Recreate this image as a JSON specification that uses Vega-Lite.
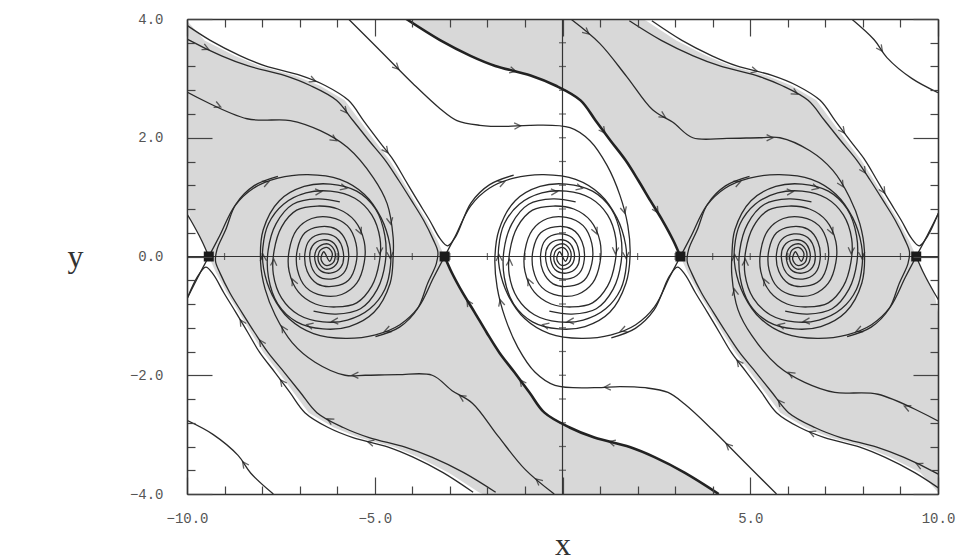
{
"$schema":"https://vega.github.io/schema/vega-lite/v6.json",
"width":751,"height":475,
"autosize":{"type":"none"},
"padding":{"left":187,"top":19,"right":29,"bottom":66},
"background":"white",
"config":{"view":{"stroke":null}},
"datasets":{
"shade":[
{"b":"p","y":4,"x1":-4.16,"x2":2.12},{"b":"p","y":3.97,"x1":-4.05,"x2":2.23},{"b":"p","y":3.64,"x1":-3.25,"x2":3.03},{"b":"p","y":3.38,"x1":-2.45,"x2":3.83},{"b":"p","y":3.21,"x1":-1.79,"x2":4.49},{"b":"p","y":3.05,"x1":-0.85,"x2":5.43},{"b":"p","y":2.88,"x1":-0.19,"x2":6.09},{"b":"p","y":2.63,"x1":0.48,"x2":6.76},{"b":"p","y":2.29,"x1":0.88,"x2":7.16},{"b":"p","y":1.95,"x1":1.28,"x2":7.56},{"b":"p","y":1.62,"x1":1.68,"x2":7.96},{"b":"p","y":1.28,"x1":2.02,"x2":8.3},{"b":"p","y":0.94,"x1":2.34,"x2":8.62},{"b":"p","y":0.61,"x1":2.66,"x2":8.94},{"b":"p","y":0.27,"x1":2.95,"x2":9.23},{"b":"p","y":0,"x1":3.14,"x2":9.42},{"b":"p","y":-0.27,"x1":3.33,"x2":9.61},{"b":"p","y":-0.61,"x1":3.62,"x2":9.9},{"b":"p","y":-0.94,"x1":3.94,"x2":10},{"b":"p","y":-1.28,"x1":4.26,"x2":10},{"b":"p","y":-1.62,"x1":4.6,"x2":10},{"b":"p","y":-1.95,"x1":5.0,"x2":10},{"b":"p","y":-2.29,"x1":5.4,"x2":10},{"b":"p","y":-2.63,"x1":5.8,"x2":10},{"b":"p","y":-2.88,"x1":6.47,"x2":10},{"b":"p","y":-3.05,"x1":7.13,"x2":10},{"b":"p","y":-3.21,"x1":8.07,"x2":10},{"b":"p","y":-3.38,"x1":8.73,"x2":10},{"b":"p","y":-3.64,"x1":9.53,"x2":10},{"b":"p","y":-3.97,"x1":10,"x2":10},
{"b":"m","y":-4,"x1":-2.12,"x2":4.16},{"b":"m","y":-3.97,"x1":-2.23,"x2":4.05},{"b":"m","y":-3.64,"x1":-3.03,"x2":3.25},{"b":"m","y":-3.38,"x1":-3.83,"x2":2.45},{"b":"m","y":-3.21,"x1":-4.49,"x2":1.79},{"b":"m","y":-3.05,"x1":-5.43,"x2":0.85},{"b":"m","y":-2.88,"x1":-6.09,"x2":0.19},{"b":"m","y":-2.63,"x1":-6.76,"x2":-0.48},{"b":"m","y":-2.29,"x1":-7.16,"x2":-0.88},{"b":"m","y":-1.95,"x1":-7.56,"x2":-1.28},{"b":"m","y":-1.62,"x1":-7.96,"x2":-1.68},{"b":"m","y":-1.28,"x1":-8.3,"x2":-2.02},{"b":"m","y":-0.94,"x1":-8.62,"x2":-2.34},{"b":"m","y":-0.61,"x1":-8.94,"x2":-2.66},{"b":"m","y":-0.27,"x1":-9.23,"x2":-2.95},{"b":"m","y":0,"x1":-9.42,"x2":-3.14},{"b":"m","y":0.27,"x1":-9.61,"x2":-3.33},{"b":"m","y":0.61,"x1":-9.9,"x2":-3.62},{"b":"m","y":0.94,"x1":-10,"x2":-3.94},{"b":"m","y":1.28,"x1":-10,"x2":-4.26},{"b":"m","y":1.62,"x1":-10,"x2":-4.6},{"b":"m","y":1.95,"x1":-10,"x2":-5.0},{"b":"m","y":2.29,"x1":-10,"x2":-5.4},{"b":"m","y":2.63,"x1":-10,"x2":-5.8},{"b":"m","y":2.88,"x1":-10,"x2":-6.47},{"b":"m","y":3.05,"x1":-10,"x2":-7.13},{"b":"m","y":3.21,"x1":-10,"x2":-8.07},{"b":"m","y":3.38,"x1":-10,"x2":-8.73},{"b":"m","y":3.64,"x1":-10,"x2":-9.53},{"b":"m","y":3.97,"x1":-10,"x2":-10}
],
"cv":[
{"id":"A0","o":1,"x":-3.14,"y":0},{"id":"A0","o":2,"x":-2.85,"y":0.35},{"id":"A0","o":3,"x":-2.45,"y":0.85},{"id":"A0","o":4,"x":-1.95,"y":1.15},{"id":"A0","o":5,"x":-1.3,"y":1.32},{"id":"A0","o":6,"x":-0.5,"y":1.38},{"id":"A0","o":7,"x":0.35,"y":1.3},{"id":"A0","o":8,"x":1.0,"y":1.05},{"id":"A0","o":9,"x":1.45,"y":0.65},{"id":"A0","o":10,"x":1.68,"y":0.2},{"id":"A0","o":11,"x":1.7,"y":-0.15},{"id":"A0","o":12,"x":1.55,"y":-0.55},{"id":"A0","o":13,"x":1.15,"y":-0.88},{"id":"A0","o":14,"x":0.55,"y":-1.07},{"id":"A0","o":15,"x":-0.1,"y":-1.1},{"id":"A0","o":16,"x":-0.75,"y":-0.98},{"id":"A0","o":17,"x":-1.2,"y":-0.7},{"id":"A0","o":18,"x":-1.42,"y":-0.3},{"id":"A0","o":19,"x":-1.4,"y":0.1},{"id":"A0","o":20,"x":-1.2,"y":0.5},{"id":"A0","o":21,"x":-0.8,"y":0.78},{"id":"A0","o":22,"x":-0.25,"y":0.85},{"id":"A0","o":23,"x":0.3,"y":0.8},{"id":"A0","o":24,"x":0.75,"y":0.6},{"id":"A0","o":25,"x":1.0,"y":0.25},{"id":"A0","o":26,"x":1.0,"y":-0.1},{"id":"A0","o":27,"x":0.8,"y":-0.45},{"id":"A0","o":28,"x":0.4,"y":-0.64},{"id":"A0","o":29,"x":-0.1,"y":-0.66},{"id":"A0","o":30,"x":-0.55,"y":-0.52},{"id":"A0","o":31,"x":-0.78,"y":-0.22},{"id":"A0","o":32,"x":-0.78,"y":0.12},{"id":"A0","o":33,"x":-0.58,"y":0.4},{"id":"A0","o":34,"x":-0.2,"y":0.5},{"id":"A0","o":35,"x":0.25,"y":0.46},{"id":"A0","o":36,"x":0.52,"y":0.25},{"id":"A0","o":37,"x":0.58,"y":-0.05},{"id":"A0","o":38,"x":0.45,"y":-0.28},{"id":"A0","o":39,"x":0.12,"y":-0.38},{"id":"A0","o":40,"x":-0.25,"y":-0.32},{"id":"A0","o":41,"x":-0.44,"y":-0.08},{"id":"A0","o":42,"x":-0.38,"y":0.18},{"id":"A0","o":43,"x":-0.1,"y":0.28},{"id":"A0","o":44,"x":0.2,"y":0.22},{"id":"A0","o":45,"x":0.32,"y":0},{"id":"A0","o":46,"x":0.2,"y":-0.17},{"id":"A0","o":47,"x":-0.05,"y":-0.21},{"id":"A0","o":48,"x":-0.22,"y":-0.08},{"id":"A0","o":49,"x":-0.18,"y":0.1},{"id":"A0","o":50,"x":0.02,"y":0.15},{"id":"A0","o":51,"x":0.15,"y":0.05},{"id":"A0","o":52,"x":0.08,"y":-0.08},{"id":"A0","o":53,"x":0,"y":0},
{"id":"B0","o":1,"x":3.14,"y":0},{"id":"B0","o":2,"x":2.85,"y":-0.35},{"id":"B0","o":3,"x":2.45,"y":-0.85},{"id":"B0","o":4,"x":1.95,"y":-1.15},{"id":"B0","o":5,"x":1.3,"y":-1.32},{"id":"B0","o":6,"x":0.5,"y":-1.38},{"id":"B0","o":7,"x":-0.35,"y":-1.3},{"id":"B0","o":8,"x":-1.0,"y":-1.05},{"id":"B0","o":9,"x":-1.45,"y":-0.65},{"id":"B0","o":10,"x":-1.68,"y":-0.2},{"id":"B0","o":11,"x":-1.7,"y":0.15},{"id":"B0","o":12,"x":-1.55,"y":0.55},{"id":"B0","o":13,"x":-1.15,"y":0.88},{"id":"B0","o":14,"x":-0.55,"y":1.07},{"id":"B0","o":15,"x":0.1,"y":1.1},{"id":"B0","o":16,"x":0.75,"y":0.98},{"id":"B0","o":17,"x":1.2,"y":0.7},{"id":"B0","o":18,"x":1.42,"y":0.3},{"id":"B0","o":19,"x":1.4,"y":-0.1},{"id":"B0","o":20,"x":1.2,"y":-0.5},{"id":"B0","o":21,"x":0.8,"y":-0.78},{"id":"B0","o":22,"x":0.25,"y":-0.85},{"id":"B0","o":23,"x":-0.3,"y":-0.8},{"id":"B0","o":24,"x":-0.75,"y":-0.6},{"id":"B0","o":25,"x":-1.0,"y":-0.25},{"id":"B0","o":26,"x":-1.0,"y":0.1},{"id":"B0","o":27,"x":-0.8,"y":0.45},{"id":"B0","o":28,"x":-0.4,"y":0.64},{"id":"B0","o":29,"x":0.1,"y":0.66},{"id":"B0","o":30,"x":0.55,"y":0.52},{"id":"B0","o":31,"x":0.78,"y":0.22},{"id":"B0","o":32,"x":0.78,"y":-0.12},{"id":"B0","o":33,"x":0.58,"y":-0.4},{"id":"B0","o":34,"x":0.2,"y":-0.5},{"id":"B0","o":35,"x":-0.25,"y":-0.46},{"id":"B0","o":36,"x":-0.52,"y":-0.25},{"id":"B0","o":37,"x":-0.58,"y":0.05},{"id":"B0","o":38,"x":-0.45,"y":0.28},{"id":"B0","o":39,"x":-0.12,"y":0.38},{"id":"B0","o":40,"x":0.25,"y":0.32},{"id":"B0","o":41,"x":0.44,"y":0.08},{"id":"B0","o":42,"x":0.38,"y":-0.18},{"id":"B0","o":43,"x":0.1,"y":-0.28},{"id":"B0","o":44,"x":-0.2,"y":-0.22},{"id":"B0","o":45,"x":-0.32,"y":0},{"id":"B0","o":46,"x":-0.2,"y":0.17},{"id":"B0","o":47,"x":0.05,"y":0.21},{"id":"B0","o":48,"x":0.22,"y":0.08},{"id":"B0","o":49,"x":0.18,"y":-0.1},{"id":"B0","o":50,"x":-0.02,"y":-0.15},{"id":"B0","o":51,"x":-0.15,"y":-0.05},{"id":"B0","o":52,"x":-0.08,"y":0.08},{"id":"B0","o":53,"x":0,"y":0},
{"id":"A2","o":1,"x":3.14,"y":0},{"id":"A2","o":2,"x":3.43,"y":0.35},{"id":"A2","o":3,"x":3.83,"y":0.85},{"id":"A2","o":4,"x":4.33,"y":1.15},{"id":"A2","o":5,"x":4.98,"y":1.32},{"id":"A2","o":6,"x":5.78,"y":1.38},{"id":"A2","o":7,"x":6.63,"y":1.3},{"id":"A2","o":8,"x":7.28,"y":1.05},{"id":"A2","o":9,"x":7.73,"y":0.65},{"id":"A2","o":10,"x":7.96,"y":0.2},{"id":"A2","o":11,"x":7.98,"y":-0.15},{"id":"A2","o":12,"x":7.83,"y":-0.55},{"id":"A2","o":13,"x":7.43,"y":-0.88},{"id":"A2","o":14,"x":6.83,"y":-1.07},{"id":"A2","o":15,"x":6.18,"y":-1.1},{"id":"A2","o":16,"x":5.53,"y":-0.98},{"id":"A2","o":17,"x":5.08,"y":-0.7},{"id":"A2","o":18,"x":4.86,"y":-0.3},{"id":"A2","o":19,"x":4.88,"y":0.1},{"id":"A2","o":20,"x":5.08,"y":0.5},{"id":"A2","o":21,"x":5.48,"y":0.78},{"id":"A2","o":22,"x":6.03,"y":0.85},{"id":"A2","o":23,"x":6.58,"y":0.8},{"id":"A2","o":24,"x":7.03,"y":0.6},{"id":"A2","o":25,"x":7.28,"y":0.25},{"id":"A2","o":26,"x":7.28,"y":-0.1},{"id":"A2","o":27,"x":7.08,"y":-0.45},{"id":"A2","o":28,"x":6.68,"y":-0.64},{"id":"A2","o":29,"x":6.18,"y":-0.66},{"id":"A2","o":30,"x":5.73,"y":-0.52},{"id":"A2","o":31,"x":5.5,"y":-0.22},{"id":"A2","o":32,"x":5.5,"y":0.12},{"id":"A2","o":33,"x":5.7,"y":0.4},{"id":"A2","o":34,"x":6.08,"y":0.5},{"id":"A2","o":35,"x":6.53,"y":0.46},{"id":"A2","o":36,"x":6.8,"y":0.25},{"id":"A2","o":37,"x":6.86,"y":-0.05},{"id":"A2","o":38,"x":6.73,"y":-0.28},{"id":"A2","o":39,"x":6.4,"y":-0.38},{"id":"A2","o":40,"x":6.03,"y":-0.32},{"id":"A2","o":41,"x":5.84,"y":-0.08},{"id":"A2","o":42,"x":5.9,"y":0.18},{"id":"A2","o":43,"x":6.18,"y":0.28},{"id":"A2","o":44,"x":6.48,"y":0.22},{"id":"A2","o":45,"x":6.6,"y":0},{"id":"A2","o":46,"x":6.48,"y":-0.17},{"id":"A2","o":47,"x":6.23,"y":-0.21},{"id":"A2","o":48,"x":6.06,"y":-0.08},{"id":"A2","o":49,"x":6.1,"y":0.1},{"id":"A2","o":50,"x":6.3,"y":0.15},{"id":"A2","o":51,"x":6.43,"y":0.05},{"id":"A2","o":52,"x":6.36,"y":-0.08},{"id":"A2","o":53,"x":6.28,"y":0},
{"id":"B2","o":1,"x":9.42,"y":0},{"id":"B2","o":2,"x":9.13,"y":-0.35},{"id":"B2","o":3,"x":8.73,"y":-0.85},{"id":"B2","o":4,"x":8.23,"y":-1.15},{"id":"B2","o":5,"x":7.58,"y":-1.32},{"id":"B2","o":6,"x":6.78,"y":-1.38},{"id":"B2","o":7,"x":5.93,"y":-1.3},{"id":"B2","o":8,"x":5.28,"y":-1.05},{"id":"B2","o":9,"x":4.83,"y":-0.65},{"id":"B2","o":10,"x":4.6,"y":-0.2},{"id":"B2","o":11,"x":4.58,"y":0.15},{"id":"B2","o":12,"x":4.73,"y":0.55},{"id":"B2","o":13,"x":5.13,"y":0.88},{"id":"B2","o":14,"x":5.73,"y":1.07},{"id":"B2","o":15,"x":6.38,"y":1.1},{"id":"B2","o":16,"x":7.03,"y":0.98},{"id":"B2","o":17,"x":7.48,"y":0.7},{"id":"B2","o":18,"x":7.7,"y":0.3},{"id":"B2","o":19,"x":7.68,"y":-0.1},{"id":"B2","o":20,"x":7.48,"y":-0.5},{"id":"B2","o":21,"x":7.08,"y":-0.78},{"id":"B2","o":22,"x":6.53,"y":-0.85},{"id":"B2","o":23,"x":5.98,"y":-0.8},{"id":"B2","o":24,"x":5.53,"y":-0.6},{"id":"B2","o":25,"x":5.28,"y":-0.25},{"id":"B2","o":26,"x":5.28,"y":0.1},{"id":"B2","o":27,"x":5.48,"y":0.45},{"id":"B2","o":28,"x":5.88,"y":0.64},{"id":"B2","o":29,"x":6.38,"y":0.66},{"id":"B2","o":30,"x":6.83,"y":0.52},{"id":"B2","o":31,"x":7.06,"y":0.22},{"id":"B2","o":32,"x":7.06,"y":-0.12},{"id":"B2","o":33,"x":6.86,"y":-0.4},{"id":"B2","o":34,"x":6.48,"y":-0.5},{"id":"B2","o":35,"x":6.03,"y":-0.46},{"id":"B2","o":36,"x":5.76,"y":-0.25},{"id":"B2","o":37,"x":5.7,"y":0.05},{"id":"B2","o":38,"x":5.83,"y":0.28},{"id":"B2","o":39,"x":6.16,"y":0.38},{"id":"B2","o":40,"x":6.53,"y":0.32},{"id":"B2","o":41,"x":6.72,"y":0.08},{"id":"B2","o":42,"x":6.66,"y":-0.18},{"id":"B2","o":43,"x":6.38,"y":-0.28},{"id":"B2","o":44,"x":6.08,"y":-0.22},{"id":"B2","o":45,"x":5.96,"y":0},{"id":"B2","o":46,"x":6.08,"y":0.17},{"id":"B2","o":47,"x":6.33,"y":0.21},{"id":"B2","o":48,"x":6.5,"y":0.08},{"id":"B2","o":49,"x":6.46,"y":-0.1},{"id":"B2","o":50,"x":6.26,"y":-0.15},{"id":"B2","o":51,"x":6.13,"y":-0.05},{"id":"B2","o":52,"x":6.2,"y":0.08},{"id":"B2","o":53,"x":6.28,"y":0},
{"id":"Am2","o":1,"x":-9.42,"y":0},{"id":"Am2","o":2,"x":-9.13,"y":0.35},{"id":"Am2","o":3,"x":-8.73,"y":0.85},{"id":"Am2","o":4,"x":-8.23,"y":1.15},{"id":"Am2","o":5,"x":-7.58,"y":1.32},{"id":"Am2","o":6,"x":-6.78,"y":1.38},{"id":"Am2","o":7,"x":-5.93,"y":1.3},{"id":"Am2","o":8,"x":-5.28,"y":1.05},{"id":"Am2","o":9,"x":-4.83,"y":0.65},{"id":"Am2","o":10,"x":-4.6,"y":0.2},{"id":"Am2","o":11,"x":-4.58,"y":-0.15},{"id":"Am2","o":12,"x":-4.73,"y":-0.55},{"id":"Am2","o":13,"x":-5.13,"y":-0.88},{"id":"Am2","o":14,"x":-5.73,"y":-1.07},{"id":"Am2","o":15,"x":-6.38,"y":-1.1},{"id":"Am2","o":16,"x":-7.03,"y":-0.98},{"id":"Am2","o":17,"x":-7.48,"y":-0.7},{"id":"Am2","o":18,"x":-7.7,"y":-0.3},{"id":"Am2","o":19,"x":-7.68,"y":0.1},{"id":"Am2","o":20,"x":-7.48,"y":0.5},{"id":"Am2","o":21,"x":-7.08,"y":0.78},{"id":"Am2","o":22,"x":-6.53,"y":0.85},{"id":"Am2","o":23,"x":-5.98,"y":0.8},{"id":"Am2","o":24,"x":-5.53,"y":0.6},{"id":"Am2","o":25,"x":-5.28,"y":0.25},{"id":"Am2","o":26,"x":-5.28,"y":-0.1},{"id":"Am2","o":27,"x":-5.48,"y":-0.45},{"id":"Am2","o":28,"x":-5.88,"y":-0.64},{"id":"Am2","o":29,"x":-6.38,"y":-0.66},{"id":"Am2","o":30,"x":-6.83,"y":-0.52},{"id":"Am2","o":31,"x":-7.06,"y":-0.22},{"id":"Am2","o":32,"x":-7.06,"y":0.12},{"id":"Am2","o":33,"x":-6.86,"y":0.4},{"id":"Am2","o":34,"x":-6.48,"y":0.5},{"id":"Am2","o":35,"x":-6.03,"y":0.46},{"id":"Am2","o":36,"x":-5.76,"y":0.25},{"id":"Am2","o":37,"x":-5.7,"y":-0.05},{"id":"Am2","o":38,"x":-5.83,"y":-0.28},{"id":"Am2","o":39,"x":-6.16,"y":-0.38},{"id":"Am2","o":40,"x":-6.53,"y":-0.32},{"id":"Am2","o":41,"x":-6.72,"y":-0.08},{"id":"Am2","o":42,"x":-6.66,"y":0.18},{"id":"Am2","o":43,"x":-6.38,"y":0.28},{"id":"Am2","o":44,"x":-6.08,"y":0.22},{"id":"Am2","o":45,"x":-5.96,"y":0},{"id":"Am2","o":46,"x":-6.08,"y":-0.17},{"id":"Am2","o":47,"x":-6.33,"y":-0.21},{"id":"Am2","o":48,"x":-6.5,"y":-0.08},{"id":"Am2","o":49,"x":-6.46,"y":0.1},{"id":"Am2","o":50,"x":-6.26,"y":0.15},{"id":"Am2","o":51,"x":-6.13,"y":0.05},{"id":"Am2","o":52,"x":-6.2,"y":-0.08},{"id":"Am2","o":53,"x":-6.28,"y":0},
{"id":"Bm2","o":1,"x":-3.14,"y":0},{"id":"Bm2","o":2,"x":-3.43,"y":-0.35},{"id":"Bm2","o":3,"x":-3.83,"y":-0.85},{"id":"Bm2","o":4,"x":-4.33,"y":-1.15},{"id":"Bm2","o":5,"x":-4.98,"y":-1.32},{"id":"Bm2","o":6,"x":-5.78,"y":-1.38},{"id":"Bm2","o":7,"x":-6.63,"y":-1.3},{"id":"Bm2","o":8,"x":-7.28,"y":-1.05},{"id":"Bm2","o":9,"x":-7.73,"y":-0.65},{"id":"Bm2","o":10,"x":-7.96,"y":-0.2},{"id":"Bm2","o":11,"x":-7.98,"y":0.15},{"id":"Bm2","o":12,"x":-7.83,"y":0.55},{"id":"Bm2","o":13,"x":-7.43,"y":0.88},{"id":"Bm2","o":14,"x":-6.83,"y":1.07},{"id":"Bm2","o":15,"x":-6.18,"y":1.1},{"id":"Bm2","o":16,"x":-5.53,"y":0.98},{"id":"Bm2","o":17,"x":-5.08,"y":0.7},{"id":"Bm2","o":18,"x":-4.86,"y":0.3},{"id":"Bm2","o":19,"x":-4.88,"y":-0.1},{"id":"Bm2","o":20,"x":-5.08,"y":-0.5},{"id":"Bm2","o":21,"x":-5.48,"y":-0.78},{"id":"Bm2","o":22,"x":-6.03,"y":-0.85},{"id":"Bm2","o":23,"x":-6.58,"y":-0.8},{"id":"Bm2","o":24,"x":-7.03,"y":-0.6},{"id":"Bm2","o":25,"x":-7.28,"y":-0.25},{"id":"Bm2","o":26,"x":-7.28,"y":0.1},{"id":"Bm2","o":27,"x":-7.08,"y":0.45},{"id":"Bm2","o":28,"x":-6.68,"y":0.64},{"id":"Bm2","o":29,"x":-6.18,"y":0.66},{"id":"Bm2","o":30,"x":-5.73,"y":0.52},{"id":"Bm2","o":31,"x":-5.5,"y":0.22},{"id":"Bm2","o":32,"x":-5.5,"y":-0.12},{"id":"Bm2","o":33,"x":-5.7,"y":-0.4},{"id":"Bm2","o":34,"x":-6.08,"y":-0.5},{"id":"Bm2","o":35,"x":-6.53,"y":-0.46},{"id":"Bm2","o":36,"x":-6.8,"y":-0.25},{"id":"Bm2","o":37,"x":-6.86,"y":0.05},{"id":"Bm2","o":38,"x":-6.73,"y":0.28},{"id":"Bm2","o":39,"x":-6.4,"y":0.38},{"id":"Bm2","o":40,"x":-6.03,"y":0.32},{"id":"Bm2","o":41,"x":-5.84,"y":0.08},{"id":"Bm2","o":42,"x":-5.9,"y":-0.18},{"id":"Bm2","o":43,"x":-6.18,"y":-0.28},{"id":"Bm2","o":44,"x":-6.48,"y":-0.22},{"id":"Bm2","o":45,"x":-6.6,"y":0},{"id":"Bm2","o":46,"x":-6.48,"y":0.17},{"id":"Bm2","o":47,"x":-6.23,"y":0.21},{"id":"Bm2","o":48,"x":-6.06,"y":0.08},{"id":"Bm2","o":49,"x":-6.1,"y":-0.1},{"id":"Bm2","o":50,"x":-6.3,"y":-0.15},{"id":"Bm2","o":51,"x":-6.43,"y":-0.05},{"id":"Bm2","o":52,"x":-6.36,"y":0.08},{"id":"Bm2","o":53,"x":-6.28,"y":0},
{"id":"C0","o":1,"x":-5.7,"y":4.0},{"id":"C0","o":2,"x":-4.86,"y":3.47},{"id":"C0","o":3,"x":-3.98,"y":2.91},{"id":"C0","o":4,"x":-3.26,"y":2.49},{"id":"C0","o":5,"x":-2.81,"y":2.29},{"id":"C0","o":6,"x":-2.2,"y":2.21},{"id":"C0","o":7,"x":-1.53,"y":2.19},{"id":"C0","o":8,"x":-0.87,"y":2.21},{"id":"C0","o":9,"x":0.2,"y":2.17},{"id":"C0","o":10,"x":0.73,"y":1.95},{"id":"C0","o":11,"x":1.19,"y":1.53},{"id":"C0","o":12,"x":1.53,"y":1.03},{"id":"C0","o":13,"x":1.74,"y":0.52},{"id":"C0","o":14,"x":1.8,"y":0.02},{"id":"C0","o":15,"x":1.69,"y":-0.45},{"id":"C0","o":16,"x":1.26,"y":-0.94},{"id":"C0","o":17,"x":0.6,"y":-1.18},{"id":"C0","o":18,"x":-0.1,"y":-1.22},{"id":"C0","o":19,"x":-0.8,"y":-1.1},{"id":"C0","o":20,"x":-1.3,"y":-0.8},{"id":"C0","o":21,"x":-1.55,"y":-0.35},{"id":"C0","o":22,"x":-1.56,"y":0.1},{"id":"C0","o":23,"x":-1.35,"y":0.55},{"id":"C0","o":24,"x":-0.9,"y":0.88},{"id":"C0","o":25,"x":-0.25,"y":0.97},{"id":"C0","o":26,"x":0.35,"y":0.92},
{"id":"Cr0","o":1,"x":5.7,"y":-4.0},{"id":"Cr0","o":2,"x":4.86,"y":-3.47},{"id":"Cr0","o":3,"x":3.98,"y":-2.91},{"id":"Cr0","o":4,"x":3.26,"y":-2.49},{"id":"Cr0","o":5,"x":2.81,"y":-2.29},{"id":"Cr0","o":6,"x":2.2,"y":-2.21},{"id":"Cr0","o":7,"x":1.53,"y":-2.19},{"id":"Cr0","o":8,"x":0.87,"y":-2.21},{"id":"Cr0","o":9,"x":-0.2,"y":-2.17},{"id":"Cr0","o":10,"x":-0.73,"y":-1.95},{"id":"Cr0","o":11,"x":-1.19,"y":-1.53},{"id":"Cr0","o":12,"x":-1.53,"y":-1.03},{"id":"Cr0","o":13,"x":-1.74,"y":-0.52},{"id":"Cr0","o":14,"x":-1.8,"y":-0.02},{"id":"Cr0","o":15,"x":-1.69,"y":0.45},{"id":"Cr0","o":16,"x":-1.26,"y":0.94},{"id":"Cr0","o":17,"x":-0.6,"y":1.18},{"id":"Cr0","o":18,"x":0.1,"y":1.22},{"id":"Cr0","o":19,"x":0.8,"y":1.1},{"id":"Cr0","o":20,"x":1.3,"y":0.8},{"id":"Cr0","o":21,"x":1.55,"y":0.35},{"id":"Cr0","o":22,"x":1.56,"y":-0.1},{"id":"Cr0","o":23,"x":1.35,"y":-0.55},{"id":"Cr0","o":24,"x":0.9,"y":-0.88},{"id":"Cr0","o":25,"x":0.25,"y":-0.97},{"id":"Cr0","o":26,"x":-0.35,"y":-0.92},
{"id":"C2","o":1,"x":0.22,"y":4.0},{"id":"C2","o":2,"x":0.99,"y":3.59},{"id":"C2","o":3,"x":1.71,"y":3.03},{"id":"C2","o":4,"x":2.4,"y":2.47},{"id":"C2","o":5,"x":2.94,"y":2.26},{"id":"C2","o":6,"x":3.47,"y":2.0},{"id":"C2","o":7,"x":4.38,"y":1.99},{"id":"C2","o":8,"x":5.25,"y":2.0},{"id":"C2","o":9,"x":5.79,"y":2.0},{"id":"C2","o":10,"x":6.59,"y":1.78},{"id":"C2","o":11,"x":7.2,"y":1.45},{"id":"C2","o":12,"x":7.65,"y":0.99},{"id":"C2","o":13,"x":7.92,"y":0.55},{"id":"C2","o":14,"x":8.04,"y":0.1},{"id":"C2","o":15,"x":7.97,"y":-0.45},{"id":"C2","o":16,"x":7.54,"y":-0.94},{"id":"C2","o":17,"x":6.88,"y":-1.18},{"id":"C2","o":18,"x":6.18,"y":-1.22},{"id":"C2","o":19,"x":5.48,"y":-1.1},{"id":"C2","o":20,"x":4.98,"y":-0.8},{"id":"C2","o":21,"x":4.73,"y":-0.35},{"id":"C2","o":22,"x":4.72,"y":0.1},{"id":"C2","o":23,"x":4.93,"y":0.55},{"id":"C2","o":24,"x":5.38,"y":0.88},{"id":"C2","o":25,"x":6.03,"y":0.97},{"id":"C2","o":26,"x":6.63,"y":0.92},
{"id":"Crm2","o":1,"x":-0.22,"y":-4.0},{"id":"Crm2","o":2,"x":-0.99,"y":-3.59},{"id":"Crm2","o":3,"x":-1.71,"y":-3.03},{"id":"Crm2","o":4,"x":-2.4,"y":-2.47},{"id":"Crm2","o":5,"x":-2.94,"y":-2.26},{"id":"Crm2","o":6,"x":-3.47,"y":-2.0},{"id":"Crm2","o":7,"x":-4.38,"y":-1.99},{"id":"Crm2","o":8,"x":-5.25,"y":-2.0},{"id":"Crm2","o":9,"x":-5.79,"y":-2.0},{"id":"Crm2","o":10,"x":-6.59,"y":-1.78},{"id":"Crm2","o":11,"x":-7.2,"y":-1.45},{"id":"Crm2","o":12,"x":-7.65,"y":-0.99},{"id":"Crm2","o":13,"x":-7.92,"y":-0.55},{"id":"Crm2","o":14,"x":-8.04,"y":-0.1},{"id":"Crm2","o":15,"x":-7.97,"y":0.45},{"id":"Crm2","o":16,"x":-7.54,"y":0.94},{"id":"Crm2","o":17,"x":-6.88,"y":1.18},{"id":"Crm2","o":18,"x":-6.18,"y":1.22},{"id":"Crm2","o":19,"x":-5.48,"y":1.1},{"id":"Crm2","o":20,"x":-4.98,"y":0.8},{"id":"Crm2","o":21,"x":-4.73,"y":0.35},{"id":"Crm2","o":22,"x":-4.72,"y":-0.1},{"id":"Crm2","o":23,"x":-4.93,"y":-0.55},{"id":"Crm2","o":24,"x":-5.38,"y":-0.88},{"id":"Crm2","o":25,"x":-6.03,"y":-0.97},{"id":"Crm2","o":26,"x":-6.63,"y":-0.92},
{"id":"Ca","o":1,"x":-10.0,"y":2.77},{"id":"Ca","o":2,"x":-8.4,"y":2.32},{"id":"Ca","o":3,"x":-7.25,"y":2.29},{"id":"Ca","o":4,"x":-6.45,"y":2.12},{"id":"Ca","o":5,"x":-5.73,"y":1.84},{"id":"Ca","o":6,"x":-5.04,"y":1.33},{"id":"Ca","o":7,"x":-4.67,"y":0.89},{"id":"Ca","o":8,"x":-4.51,"y":0.32},{"id":"Ca","o":9,"x":-4.51,"y":0.0},{"id":"Ca","o":10,"x":-4.59,"y":-0.45},{"id":"Ca","o":11,"x":-5.02,"y":-0.94},{"id":"Ca","o":12,"x":-5.68,"y":-1.18},{"id":"Ca","o":13,"x":-6.38,"y":-1.22},{"id":"Ca","o":14,"x":-7.08,"y":-1.1},{"id":"Ca","o":15,"x":-7.58,"y":-0.8},{"id":"Ca","o":16,"x":-7.83,"y":-0.35},{"id":"Ca","o":17,"x":-7.84,"y":0.1},{"id":"Ca","o":18,"x":-7.63,"y":0.55},{"id":"Ca","o":19,"x":-7.18,"y":0.88},{"id":"Ca","o":20,"x":-6.53,"y":0.97},{"id":"Ca","o":21,"x":-5.93,"y":0.92},
{"id":"Car","o":1,"x":10.0,"y":-2.77},{"id":"Car","o":2,"x":8.4,"y":-2.32},{"id":"Car","o":3,"x":7.25,"y":-2.29},{"id":"Car","o":4,"x":6.45,"y":-2.12},{"id":"Car","o":5,"x":5.73,"y":-1.84},{"id":"Car","o":6,"x":5.04,"y":-1.33},{"id":"Car","o":7,"x":4.67,"y":-0.89},{"id":"Car","o":8,"x":4.51,"y":-0.32},{"id":"Car","o":9,"x":4.51,"y":0.0},{"id":"Car","o":10,"x":4.59,"y":0.45},{"id":"Car","o":11,"x":5.02,"y":0.94},{"id":"Car","o":12,"x":5.68,"y":1.18},{"id":"Car","o":13,"x":6.38,"y":1.22},{"id":"Car","o":14,"x":7.08,"y":1.1},{"id":"Car","o":15,"x":7.58,"y":0.8},{"id":"Car","o":16,"x":7.83,"y":0.35},{"id":"Car","o":17,"x":7.84,"y":-0.1},{"id":"Car","o":18,"x":7.63,"y":-0.55},{"id":"Car","o":19,"x":7.18,"y":-0.88},{"id":"Car","o":20,"x":6.53,"y":-0.97},{"id":"Car","o":21,"x":5.93,"y":-0.92},
{"id":"G","o":1,"x":7.7,"y":4.0},{"id":"G","o":2,"x":8.3,"y":3.65},{"id":"G","o":3,"x":8.64,"y":3.35},{"id":"G","o":4,"x":9.3,"y":3.0},{"id":"G","o":5,"x":10.0,"y":2.76},
{"id":"Gr","o":1,"x":-7.7,"y":-4.0},{"id":"Gr","o":2,"x":-8.3,"y":-3.65},{"id":"Gr","o":3,"x":-8.64,"y":-3.35},{"id":"Gr","o":4,"x":-9.3,"y":-3.0},{"id":"Gr","o":5,"x":-10.0,"y":-2.76},
{"id":"PmR","o":1,"x":-10.18,"y":3.97},{"id":"PmR","o":2,"x":-9.38,"y":3.64},{"id":"PmR","o":3,"x":-8.58,"y":3.38},{"id":"PmR","o":4,"x":-7.92,"y":3.21},{"id":"PmR","o":5,"x":-6.98,"y":3.05},{"id":"PmR","o":6,"x":-6.32,"y":2.88},{"id":"PmR","o":7,"x":-5.7,"y":2.63},{"id":"PmR","o":8,"x":-5.3,"y":2.29},{"id":"PmR","o":9,"x":-4.9,"y":1.95},{"id":"PmR","o":10,"x":-4.5,"y":1.62},{"id":"PmR","o":11,"x":-4.18,"y":1.28},{"id":"PmR","o":12,"x":-3.86,"y":0.94},{"id":"PmR","o":13,"x":-3.54,"y":0.61},{"id":"PmR","o":14,"x":-3.26,"y":0.3},{"id":"PmR","o":15,"x":-3.06,"y":0.18},{"id":"PmR","o":16,"x":-2.84,"y":0.34},{"id":"PmR","o":17,"x":-2.44,"y":0.9},{"id":"PmR","o":18,"x":-1.94,"y":1.21},{"id":"PmR","o":19,"x":-1.3,"y":1.37},
{"id":"PmL","o":1,"x":-10.78,"y":3.97},{"id":"PmL","o":2,"x":-9.93,"y":3.64},{"id":"PmL","o":3,"x":-9.08,"y":3.38},{"id":"PmL","o":4,"x":-8.37,"y":3.21},{"id":"PmL","o":5,"x":-7.41,"y":3.05},{"id":"PmL","o":6,"x":-6.72,"y":2.88},{"id":"PmL","o":7,"x":-6.02,"y":2.63},{"id":"PmL","o":8,"x":-5.58,"y":2.29},{"id":"PmL","o":9,"x":-5.15,"y":1.95},{"id":"PmL","o":10,"x":-4.72,"y":1.62},{"id":"PmL","o":11,"x":-4.36,"y":1.28},{"id":"PmL","o":12,"x":-4.02,"y":0.94},{"id":"PmL","o":13,"x":-3.7,"y":0.61},{"id":"PmL","o":14,"x":-3.44,"y":0.28},{"id":"PmL","o":15,"x":-3.32,"y":0.08},{"id":"PmL","o":16,"x":-3.36,"y":-0.12},{"id":"PmL","o":17,"x":-3.59,"y":-0.45},{"id":"PmL","o":18,"x":-3.86,"y":-0.88},{"id":"PmL","o":19,"x":-4.34,"y":-1.19},{"id":"PmL","o":20,"x":-4.98,"y":-1.35},
{"id":"P3R","o":1,"x":2.38,"y":3.97},{"id":"P3R","o":2,"x":3.18,"y":3.64},{"id":"P3R","o":3,"x":3.98,"y":3.38},{"id":"P3R","o":4,"x":4.64,"y":3.21},{"id":"P3R","o":5,"x":5.58,"y":3.05},{"id":"P3R","o":6,"x":6.24,"y":2.88},{"id":"P3R","o":7,"x":6.86,"y":2.63},{"id":"P3R","o":8,"x":7.26,"y":2.29},{"id":"P3R","o":9,"x":7.66,"y":1.95},{"id":"P3R","o":10,"x":8.06,"y":1.62},{"id":"P3R","o":11,"x":8.38,"y":1.28},{"id":"P3R","o":12,"x":8.7,"y":0.94},{"id":"P3R","o":13,"x":9.02,"y":0.61},{"id":"P3R","o":14,"x":9.3,"y":0.3},{"id":"P3R","o":15,"x":9.5,"y":0.18},{"id":"P3R","o":16,"x":9.72,"y":0.34},{"id":"P3R","o":17,"x":10.12,"y":0.9},
{"id":"P3L","o":1,"x":1.78,"y":3.97},{"id":"P3L","o":2,"x":2.63,"y":3.64},{"id":"P3L","o":3,"x":3.48,"y":3.38},{"id":"P3L","o":4,"x":4.19,"y":3.21},{"id":"P3L","o":5,"x":5.15,"y":3.05},{"id":"P3L","o":6,"x":5.84,"y":2.88},{"id":"P3L","o":7,"x":6.54,"y":2.63},{"id":"P3L","o":8,"x":6.98,"y":2.29},{"id":"P3L","o":9,"x":7.41,"y":1.95},{"id":"P3L","o":10,"x":7.84,"y":1.62},{"id":"P3L","o":11,"x":8.2,"y":1.28},{"id":"P3L","o":12,"x":8.54,"y":0.94},{"id":"P3L","o":13,"x":8.86,"y":0.61},{"id":"P3L","o":14,"x":9.12,"y":0.28},{"id":"P3L","o":15,"x":9.24,"y":0.08},{"id":"P3L","o":16,"x":9.2,"y":-0.12},{"id":"P3L","o":17,"x":8.97,"y":-0.45},{"id":"P3L","o":18,"x":8.7,"y":-0.88},{"id":"P3L","o":19,"x":8.22,"y":-1.19},{"id":"P3L","o":20,"x":7.58,"y":-1.35},
{"id":"QmR","o":1,"x":10.18,"y":-3.97},{"id":"QmR","o":2,"x":9.38,"y":-3.64},{"id":"QmR","o":3,"x":8.58,"y":-3.38},{"id":"QmR","o":4,"x":7.92,"y":-3.21},{"id":"QmR","o":5,"x":6.98,"y":-3.05},{"id":"QmR","o":6,"x":6.32,"y":-2.88},{"id":"QmR","o":7,"x":5.7,"y":-2.63},{"id":"QmR","o":8,"x":5.3,"y":-2.29},{"id":"QmR","o":9,"x":4.9,"y":-1.95},{"id":"QmR","o":10,"x":4.5,"y":-1.62},{"id":"QmR","o":11,"x":4.18,"y":-1.28},{"id":"QmR","o":12,"x":3.86,"y":-0.94},{"id":"QmR","o":13,"x":3.54,"y":-0.61},{"id":"QmR","o":14,"x":3.26,"y":-0.3},{"id":"QmR","o":15,"x":3.06,"y":-0.18},{"id":"QmR","o":16,"x":2.84,"y":-0.34},{"id":"QmR","o":17,"x":2.44,"y":-0.9},{"id":"QmR","o":18,"x":1.94,"y":-1.21},{"id":"QmR","o":19,"x":1.3,"y":-1.37},
{"id":"QmL","o":1,"x":10.78,"y":-3.97},{"id":"QmL","o":2,"x":9.93,"y":-3.64},{"id":"QmL","o":3,"x":9.08,"y":-3.38},{"id":"QmL","o":4,"x":8.37,"y":-3.21},{"id":"QmL","o":5,"x":7.41,"y":-3.05},{"id":"QmL","o":6,"x":6.72,"y":-2.88},{"id":"QmL","o":7,"x":6.02,"y":-2.63},{"id":"QmL","o":8,"x":5.58,"y":-2.29},{"id":"QmL","o":9,"x":5.15,"y":-1.95},{"id":"QmL","o":10,"x":4.72,"y":-1.62},{"id":"QmL","o":11,"x":4.36,"y":-1.28},{"id":"QmL","o":12,"x":4.02,"y":-0.94},{"id":"QmL","o":13,"x":3.7,"y":-0.61},{"id":"QmL","o":14,"x":3.44,"y":-0.28},{"id":"QmL","o":15,"x":3.32,"y":-0.08},{"id":"QmL","o":16,"x":3.36,"y":0.12},{"id":"QmL","o":17,"x":3.59,"y":0.45},{"id":"QmL","o":18,"x":3.86,"y":0.88},{"id":"QmL","o":19,"x":4.34,"y":1.19},{"id":"QmL","o":20,"x":4.98,"y":1.35},
{"id":"Q3R","o":1,"x":-2.38,"y":-3.97},{"id":"Q3R","o":2,"x":-3.18,"y":-3.64},{"id":"Q3R","o":3,"x":-3.98,"y":-3.38},{"id":"Q3R","o":4,"x":-4.64,"y":-3.21},{"id":"Q3R","o":5,"x":-5.58,"y":-3.05},{"id":"Q3R","o":6,"x":-6.24,"y":-2.88},{"id":"Q3R","o":7,"x":-6.86,"y":-2.63},{"id":"Q3R","o":8,"x":-7.26,"y":-2.29},{"id":"Q3R","o":9,"x":-7.66,"y":-1.95},{"id":"Q3R","o":10,"x":-8.06,"y":-1.62},{"id":"Q3R","o":11,"x":-8.38,"y":-1.28},{"id":"Q3R","o":12,"x":-8.7,"y":-0.94},{"id":"Q3R","o":13,"x":-9.02,"y":-0.61},{"id":"Q3R","o":14,"x":-9.3,"y":-0.3},{"id":"Q3R","o":15,"x":-9.5,"y":-0.18},{"id":"Q3R","o":16,"x":-9.72,"y":-0.34},{"id":"Q3R","o":17,"x":-10.12,"y":-0.9},
{"id":"Q3L","o":1,"x":-1.78,"y":-3.97},{"id":"Q3L","o":2,"x":-2.63,"y":-3.64},{"id":"Q3L","o":3,"x":-3.48,"y":-3.38},{"id":"Q3L","o":4,"x":-4.19,"y":-3.21},{"id":"Q3L","o":5,"x":-5.15,"y":-3.05},{"id":"Q3L","o":6,"x":-5.84,"y":-2.88},{"id":"Q3L","o":7,"x":-6.54,"y":-2.63},{"id":"Q3L","o":8,"x":-6.98,"y":-2.29},{"id":"Q3L","o":9,"x":-7.41,"y":-1.95},{"id":"Q3L","o":10,"x":-7.84,"y":-1.62},{"id":"Q3L","o":11,"x":-8.2,"y":-1.28},{"id":"Q3L","o":12,"x":-8.54,"y":-0.94},{"id":"Q3L","o":13,"x":-8.86,"y":-0.61},{"id":"Q3L","o":14,"x":-9.12,"y":-0.28},{"id":"Q3L","o":15,"x":-9.24,"y":-0.08},{"id":"Q3L","o":16,"x":-9.2,"y":0.12},{"id":"Q3L","o":17,"x":-8.97,"y":0.45},{"id":"Q3L","o":18,"x":-8.7,"y":0.88},{"id":"Q3L","o":19,"x":-8.22,"y":1.19},{"id":"Q3L","o":20,"x":-7.58,"y":1.35},
{"id":"U3m","o":1,"x":-10.54,"y":1.28},{"id":"U3m","o":2,"x":-10.22,"y":0.94},{"id":"U3m","o":3,"x":-9.9,"y":0.61},{"id":"U3m","o":4,"x":-9.61,"y":0.27},{"id":"U3m","o":5,"x":-9.42,"y":0},
{"id":"U3r","o":1,"x":10.54,"y":-1.28},{"id":"U3r","o":2,"x":10.22,"y":-0.94},{"id":"U3r","o":3,"x":9.9,"y":-0.61},{"id":"U3r","o":4,"x":9.61,"y":-0.27},{"id":"U3r","o":5,"x":9.42,"y":0},
{"id":"A4","o":1,"x":9.42,"y":0},{"id":"A4","o":2,"x":9.71,"y":0.35},{"id":"A4","o":3,"x":10.11,"y":0.85},
{"id":"B4","o":1,"x":-9.42,"y":0},{"id":"B4","o":2,"x":-9.71,"y":-0.35},{"id":"B4","o":3,"x":-10.11,"y":-0.85}
],
"tk":[
{"id":"Up","o":1,"x":-4.16,"y":4.0},{"id":"Up","o":2,"x":-3.25,"y":3.64},{"id":"Up","o":3,"x":-2.45,"y":3.38},{"id":"Up","o":4,"x":-1.79,"y":3.21},{"id":"Up","o":5,"x":-0.85,"y":3.05},{"id":"Up","o":6,"x":-0.19,"y":2.88},{"id":"Up","o":7,"x":0.48,"y":2.63},{"id":"Up","o":8,"x":0.88,"y":2.29},{"id":"Up","o":9,"x":1.28,"y":1.95},{"id":"Up","o":10,"x":1.68,"y":1.62},{"id":"Up","o":11,"x":2.02,"y":1.28},{"id":"Up","o":12,"x":2.34,"y":0.94},{"id":"Up","o":13,"x":2.66,"y":0.61},{"id":"Up","o":14,"x":2.95,"y":0.27},{"id":"Up","o":15,"x":3.14,"y":0},
{"id":"Lm","o":1,"x":4.16,"y":-4.0},{"id":"Lm","o":2,"x":3.25,"y":-3.64},{"id":"Lm","o":3,"x":2.45,"y":-3.38},{"id":"Lm","o":4,"x":1.79,"y":-3.21},{"id":"Lm","o":5,"x":0.85,"y":-3.05},{"id":"Lm","o":6,"x":0.19,"y":-2.88},{"id":"Lm","o":7,"x":-0.48,"y":-2.63},{"id":"Lm","o":8,"x":-0.88,"y":-2.29},{"id":"Lm","o":9,"x":-1.28,"y":-1.95},{"id":"Lm","o":10,"x":-1.68,"y":-1.62},{"id":"Lm","o":11,"x":-2.02,"y":-1.28},{"id":"Lm","o":12,"x":-2.34,"y":-0.94},{"id":"Lm","o":13,"x":-2.66,"y":-0.61},{"id":"Lm","o":14,"x":-2.95,"y":-0.27},{"id":"Lm","o":15,"x":-3.14,"y":0}
],
"ar":[
{"x":-1.32,"y":3.13,"a":105},{"x":1.08,"y":2.12,"a":143},{"x":2.5,"y":0.78,"a":148},
{"x":-6.65,"y":2.97,"a":112},{"x":-4.7,"y":1.79,"a":143},{"x":-9.5,"y":3.51,"a":116},{"x":-5.8,"y":2.46,"a":141},
{"x":5.11,"y":3.13,"a":105},{"x":7.46,"y":2.12,"a":143},{"x":8.54,"y":1.11,"a":149},{"x":6.19,"y":2.76,"a":120},{"x":8.02,"y":1.45,"a":146},
{"x":-4.42,"y":3.19,"a":135},{"x":-1.2,"y":2.2,"a":87},{"x":1.64,"y":0.78,"a":165},{"x":-0.45,"y":-1.16,"a":285},
{"x":0.64,"y":3.78,"a":130},{"x":2.67,"y":2.37,"a":122},{"x":5.52,"y":2.0,"a":90},{"x":7.43,"y":1.22,"a":148},{"x":5.83,"y":-1.16,"a":285},
{"x":-9.18,"y":2.54,"a":114},{"x":-6.09,"y":1.98,"a":122},{"x":-4.59,"y":0.6,"a":170},{"x":-6.73,"y":-1.16,"a":285},
{"x":8.47,"y":3.5,"a":144},
{"x":1.32,"y":-3.13,"a":285},{"x":-1.08,"y":-2.12,"a":323},{"x":-2.5,"y":-0.78,"a":328},
{"x":6.65,"y":-2.97,"a":292},{"x":4.7,"y":-1.79,"a":323},{"x":9.5,"y":-3.51,"a":296},{"x":5.8,"y":-2.46,"a":321},
{"x":-5.11,"y":-3.13,"a":285},{"x":-7.46,"y":-2.12,"a":323},{"x":-8.54,"y":-1.11,"a":329},{"x":-6.19,"y":-2.76,"a":300},{"x":-8.02,"y":-1.45,"a":326},
{"x":4.42,"y":-3.19,"a":315},{"x":1.2,"y":-2.2,"a":267},{"x":-1.64,"y":-0.78,"a":345},{"x":0.45,"y":1.16,"a":105},
{"x":-0.64,"y":-3.78,"a":310},{"x":-2.67,"y":-2.37,"a":302},{"x":-5.52,"y":-2.0,"a":270},{"x":-7.43,"y":-1.22,"a":328},{"x":-5.83,"y":1.16,"a":105},
{"x":9.18,"y":-2.54,"a":294},{"x":6.09,"y":-1.98,"a":302},{"x":4.59,"y":-0.6,"a":350},{"x":6.73,"y":1.16,"a":105},
{"x":-8.47,"y":-3.5,"a":324},
{"x":-1.62,"y":1.24,"a":68},{"x":1.69,"y":0.02,"a":178},{"x":0.22,"y":-1.09,"a":266},{"x":-1.41,"y":-0.1,"a":2},{"x":0.88,"y":0.43,"a":156},
{"x":1.62,"y":-1.24,"a":248},{"x":-1.69,"y":-0.02,"a":358},{"x":-0.22,"y":1.09,"a":86},{"x":1.41,"y":0.1,"a":182},{"x":-0.88,"y":-0.43,"a":336},
{"x":4.66,"y":1.24,"a":68},{"x":7.97,"y":0.02,"a":178},{"x":6.5,"y":-1.09,"a":266},{"x":4.87,"y":-0.1,"a":2},{"x":7.16,"y":0.43,"a":156},
{"x":7.9,"y":-1.24,"a":248},{"x":4.59,"y":-0.02,"a":358},{"x":6.06,"y":1.09,"a":86},{"x":7.69,"y":0.1,"a":182},{"x":5.4,"y":-0.43,"a":336},
{"x":-7.9,"y":1.24,"a":68},{"x":-4.59,"y":0.02,"a":178},{"x":-6.06,"y":-1.09,"a":266},{"x":-7.69,"y":-0.1,"a":2},{"x":-5.4,"y":0.43,"a":156},
{"x":-4.66,"y":-1.24,"a":248},{"x":-7.97,"y":-0.02,"a":358},{"x":-6.5,"y":1.09,"a":86},{"x":-4.87,"y":0.1,"a":182},{"x":-7.16,"y":-0.43,"a":336}
],
"sd":[{"x":-9.42,"y":0},{"x":-3.14,"y":0},{"x":3.14,"y":0},{"x":9.42,"y":0}],
"itx":[{"x":-9,"y":0},{"x":-8,"y":0},{"x":-7,"y":0},{"x":-6,"y":0},{"x":-5,"y":0},{"x":-4,"y":0},{"x":-3,"y":0},{"x":-2,"y":0},{"x":-1,"y":0},{"x":1,"y":0},{"x":2,"y":0},{"x":3,"y":0},{"x":4,"y":0},{"x":5,"y":0},{"x":6,"y":0},{"x":7,"y":0},{"x":8,"y":0},{"x":9,"y":0}],
"ity":[{"x":0,"y":-3.6},{"x":0,"y":-3.2},{"x":0,"y":-2.8},{"x":0,"y":-2.4},{"x":0,"y":-2},{"x":0,"y":-1.6},{"x":0,"y":-1.2},{"x":0,"y":-0.8},{"x":0,"y":-0.4},{"x":0,"y":0.4},{"x":0,"y":0.8},{"x":0,"y":1.2},{"x":0,"y":1.6},{"x":0,"y":2},{"x":0,"y":2.4},{"x":0,"y":2.8},{"x":0,"y":3.2},{"x":0,"y":3.6}]
},
"layer":[
{"data":{"name":"shade"},
 "mark":{"type":"area","orient":"horizontal","color":"#d8d8d8","clip":true},
 "encoding":{
  "y":{"field":"y","type":"quantitative","scale":{"domain":[-4,4],"nice":false,"zero":false},
   "axis":{"orient":"left","values":[-4,-3.6,-3.2,-2.8,-2.4,-2,-1.6,-1.2,-0.8,-0.4,0,0.4,0.8,1.2,1.6,2,2.4,2.8,3.2,3.6,4],
    "labelExpr":"abs(datum.value % 2) < 0.01 ? format(datum.value, '.1f') : ''",
    "tickSize":{"condition":{"test":"abs(datum.value % 2) < 0.01","value":-25},"value":-8},
    "tickColor":"#444","tickWidth":1.2,"domain":true,"domainColor":"#333","domainWidth":1.6,"grid":false,"zindex":1,
    "labelFont":"Liberation Mono","labelFontSize":14,"labelColor":"#555","labelPadding":49,"labelFlush":false,"labelOverlap":false,
    "title":"y","titleAngle":0,"titleX":-112,"titleY":237,"titleAlign":"center","titleBaseline":"middle",
    "titleFont":"Liberation Serif","titleFontSize":32,"titleFontWeight":"normal","titleColor":"#333"}},
  "x":{"field":"x1","type":"quantitative","scale":{"domain":[-10,10],"nice":false,"zero":false},
   "axis":{"orient":"bottom","values":[-10,-9,-8,-7,-6,-5,-4,-3,-2,-1,0,1,2,3,4,5,6,7,8,9,10],
    "labelExpr":"(datum.value % 5 == 0 && datum.value != 0) ? format(datum.value, '.1f') : ''",
    "tickSize":{"condition":{"test":"datum.value % 5 == 0","value":-17},"value":-8},
    "tickColor":"#444","tickWidth":1.2,"domain":true,"domainColor":"#333","domainWidth":1.6,"grid":false,"zindex":1,
    "labelFont":"Liberation Mono","labelFontSize":14,"labelColor":"#555","labelPadding":34,"labelFlush":false,"labelOverlap":false,
    "title":"x","titleY":50,"titleBaseline":"middle",
    "titleFont":"Liberation Serif","titleFontSize":32,"titleFontWeight":"normal","titleColor":"#333"}},
  "x2":{"field":"x2"},
  "detail":{"field":"b"}
 }},
{"data":{"values":[{"x":0}]},
 "mark":{"type":"rule","color":"#333","strokeWidth":1.2},
 "encoding":{"x":{"field":"x","type":"quantitative","scale":{"domain":[-10,10],"nice":false,"zero":false},"axis":null}}},
{"data":{"values":[{"y":0}]},
 "mark":{"type":"rule","color":"#333","strokeWidth":1.2},
 "encoding":{"y":{"field":"y","type":"quantitative","scale":{"domain":[-4,4],"nice":false,"zero":false},"axis":null}}},
{"data":{"name":"itx"},
 "mark":{"type":"tick","orient":"vertical","size":7,"thickness":1.2,"color":"#333"},
 "encoding":{"x":{"field":"x","type":"quantitative","scale":{"domain":[-10,10],"nice":false,"zero":false},"axis":null},
  "y":{"field":"y","type":"quantitative","scale":{"domain":[-4,4],"nice":false,"zero":false},"axis":null}}},
{"data":{"name":"ity"},
 "mark":{"type":"tick","orient":"horizontal","size":7,"thickness":1.2,"color":"#333"},
 "encoding":{"x":{"field":"x","type":"quantitative","scale":{"domain":[-10,10],"nice":false,"zero":false},"axis":null},
  "y":{"field":"y","type":"quantitative","scale":{"domain":[-4,4],"nice":false,"zero":false},"axis":null}}},
{"data":{"name":"cv"},
 "mark":{"type":"line","interpolate":"catmull-rom","color":"#2a2a2a","strokeWidth":1.3,"clip":true},
 "encoding":{"x":{"field":"x","type":"quantitative","scale":{"domain":[-10,10],"nice":false,"zero":false},"axis":null},
  "y":{"field":"y","type":"quantitative","scale":{"domain":[-4,4],"nice":false,"zero":false},"axis":null},
  "detail":{"field":"id"},"order":{"field":"o","type":"quantitative"}}},
{"data":{"name":"tk"},
 "mark":{"type":"line","interpolate":"catmull-rom","color":"#222","strokeWidth":2.6,"clip":true},
 "encoding":{"x":{"field":"x","type":"quantitative","scale":{"domain":[-10,10],"nice":false,"zero":false},"axis":null},
  "y":{"field":"y","type":"quantitative","scale":{"domain":[-4,4],"nice":false,"zero":false},"axis":null},
  "detail":{"field":"id"},"order":{"field":"o","type":"quantitative"}}},
{"data":{"name":"ar"},
 "mark":{"type":"point","shape":"M-1,1L0,-1L1,1","filled":false,"size":40,"strokeWidth":1.3,"color":"#222","clip":true},
 "encoding":{"x":{"field":"x","type":"quantitative","scale":{"domain":[-10,10],"nice":false,"zero":false},"axis":null},
  "y":{"field":"y","type":"quantitative","scale":{"domain":[-4,4],"nice":false,"zero":false},"axis":null},
  "angle":{"field":"a","type":"quantitative","scale":null}}},
{"data":{"name":"sd"},
 "mark":{"type":"square","filled":true,"size":100,"color":"#1a1a1a","opacity":1},
 "encoding":{
  "x":{"field":"x","type":"quantitative","scale":{"domain":[-10,10],"nice":false,"zero":false},
   "axis":{"orient":"top","values":[-10,-9,-8,-7,-6,-5,-4,-3,-2,-1,0,1,2,3,4,5,6,7,8,9,10],"labels":false,
    "tickSize":{"condition":{"test":"datum.value % 5 == 0","value":-17},"value":-8},
    "tickColor":"#444","tickWidth":1.2,"domain":true,"domainColor":"#333","domainWidth":1.6,"grid":false,"zindex":1,"title":null}},
  "y":{"field":"y","type":"quantitative","scale":{"domain":[-4,4],"nice":false,"zero":false},
   "axis":{"orient":"right","values":[-4,-3.6,-3.2,-2.8,-2.4,-2,-1.6,-1.2,-0.8,-0.4,0,0.4,0.8,1.2,1.6,2,2.4,2.8,3.2,3.6,4],"labels":false,
    "tickSize":{"condition":{"test":"abs(datum.value % 2) < 0.01","value":-25},"value":-8},
    "tickColor":"#444","tickWidth":1.2,"domain":true,"domainColor":"#333","domainWidth":1.6,"grid":false,"zindex":1,"title":null}}
 }}
],
"resolve":{"axis":{"x":"independent","y":"independent"}}
}
